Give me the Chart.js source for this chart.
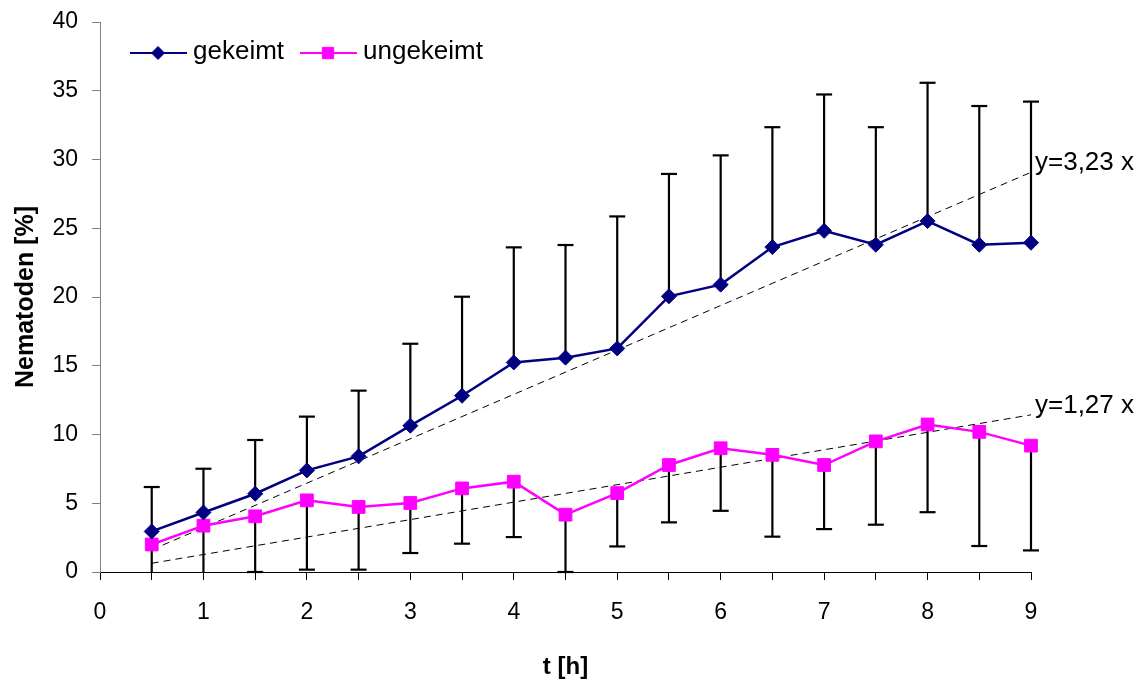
<!DOCTYPE html>
<html>
<head>
<meta charset="utf-8">
<script src="https://cdn.jsdelivr.net/npm/chart.js@4.4.1/dist/chart.umd.min.js"></script>
<style>
  body { margin: 0; background: #fff; }
  canvas { display: block; }
</style>
</head>
<body>
<canvas id="myChart" width="1145" height="684"></canvas>
<script>
// t [h]
var zeiten = [0.5, 1, 1.5, 2, 2.5, 3, 3.5, 4, 4.5, 5, 5.5, 6, 6.5, 7, 7.5, 8, 8.5, 9];
// Nematoden [%]
var gekeimt = [2.95, 4.33, 5.69, 7.39, 8.41, 10.64, 12.82, 15.24, 15.59, 16.26, 20.05, 20.9, 23.63, 24.81, 23.8, 25.52, 23.8, 23.95];
var gekeimtSd = [3.23, 3.18, 3.91, 3.91, 4.78, 5.96, 7.2, 8.37, 8.19, 9.6, 8.9, 9.4, 8.72, 9.92, 8.55, 10.06, 10.09, 10.26];
var ungekeimt = [2.0, 3.37, 4.05, 5.21, 4.73, 5.02, 6.08, 6.57, 4.17, 5.74, 7.78, 9.0, 8.52, 7.78, 9.5, 10.73, 10.19, 9.19];
var ungekeimtSd = [2.5, 4.0, 4.05, 5.04, 4.56, 3.64, 4.02, 4.03, 4.17, 3.88, 4.17, 4.55, 5.95, 4.66, 6.06, 6.38, 8.3, 7.62];
// Trendlinien y = a x
var trendSteigung = [3.23, 1.27];
var trendText = ['y=3,23 x', 'y=1,27 x'];

var schrift = "'Liberation Sans', Arial, sans-serif";

function punkte(werte) {
  return zeiten.map(function (t, i) { return { x: t, y: werte[i] }; });
}
function trend(a) {
  var t0 = zeiten[0], t1 = zeiten[zeiten.length - 1];
  return [{ x: t0, y: a * t0 }, { x: t1, y: a * t1 }];
}

// Fehlerbalken: gekeimt nach oben, ungekeimt nach unten
var fehlerbalken = {
  id: 'fehlerbalken',
  beforeDatasetsDraw: function (chart) {
    var ctx = chart.ctx, xs = chart.scales.x, ys = chart.scales.y;
    var reihen = [
      { werte: gekeimt, sd: gekeimtSd, richtung: 1 },
      { werte: ungekeimt, sd: ungekeimtSd, richtung: -1 }
    ];
    ctx.save();
    ctx.strokeStyle = '#000';
    ctx.lineWidth = 2.2;
    reihen.forEach(function (r) {
      zeiten.forEach(function (t, i) {
        var ende = r.werte[i] + r.richtung * r.sd[i];
        var px = xs.getPixelForValue(t);
        var y0 = ys.getPixelForValue(r.werte[i]);
        var y1 = ys.getPixelForValue(Math.max(ende, ys.min));
        ctx.beginPath();
        ctx.moveTo(px, y0);
        ctx.lineTo(px, y1);
        ctx.stroke();
        if (ende >= ys.min - 0.05) {
          ctx.beginPath();
          ctx.moveTo(px - 8, y1);
          ctx.lineTo(px + 8, y1);
          ctx.stroke();
        }
      });
    });
    ctx.restore();
  },
  afterDraw: function (chart) {
    var ctx = chart.ctx, xs = chart.scales.x, ys = chart.scales.y;
    ctx.save();
    // Trendlinien-Beschriftung
    ctx.font = '26px ' + schrift;
    ctx.fillStyle = '#000';
    ctx.textAlign = 'left';
    ctx.textBaseline = 'middle';
    trendSteigung.forEach(function (a, k) {
      var tEnd = zeiten[zeiten.length - 1];
      ctx.fillText(trendText[k], xs.getPixelForValue(tEnd) + 4, ys.getPixelForValue(a * tEnd) - 9);
    });
    // Legende
    var items = [
      { ds: chart.data.datasets[0], x: 130 },
      { ds: chart.data.datasets[1], x: 300 }
    ];
    var ly = 53;
    items.forEach(function (it) {
      var ds = it.ds;
      ctx.strokeStyle = ds.borderColor;
      ctx.lineWidth = 2;
      ctx.beginPath();
      ctx.moveTo(it.x, ly);
      ctx.lineTo(it.x + 57, ly);
      ctx.stroke();
      ctx.fillStyle = ds.pointBackgroundColor;
      ctx.strokeStyle = ds.pointBorderColor;
      ctx.lineWidth = 1;
      Chart.helpers.drawPoint(ctx, { pointStyle: ds.pointStyle, radius: ds.pointRadius - 1, borderWidth: 1, rotation: 0 }, it.x + 28, ly);
      ctx.fillStyle = '#000';
      ctx.font = '26px ' + schrift;
      ctx.textAlign = 'left';
      ctx.textBaseline = 'middle';
      ctx.fillText(ds.label, it.x + 63, ly - 1);
    });
    ctx.restore();
  }
};

var ctx = document.getElementById('myChart');
var myChart = new Chart(ctx, {
  type: 'line',
  data: {
    datasets: [{
      label: 'gekeimt',
      data: punkte(gekeimt),
      borderColor: '#000080',
      borderWidth: 2.5,
      pointStyle: 'rectRot',
      pointRadius: 7.5,
      pointBackgroundColor: '#000080',
      pointBorderColor: '#000080',
      pointBorderWidth: 1,
      tension: 0,
      clip: false
    }, {
      label: 'ungekeimt',
      data: punkte(ungekeimt),
      borderColor: '#FF00FF',
      borderWidth: 2.5,
      pointStyle: 'rect',
      pointRadius: 9,
      pointBackgroundColor: '#FF00FF',
      pointBorderColor: '#FF00FF',
      pointBorderWidth: 1,
      tension: 0,
      clip: false
    }, {
      label: 'trend1',
      data: trend(trendSteigung[0]),
      borderColor: '#000',
      borderWidth: 1,
      borderDash: [7, 5],
      pointRadius: 0
    }, {
      label: 'trend2',
      data: trend(trendSteigung[1]),
      borderColor: '#000',
      borderWidth: 1,
      borderDash: [7, 5],
      pointRadius: 0
    }]
  },
  options: {
    responsive: false,
    animation: false,
    layout: { padding: { left: 0, right: 114, top: 22, bottom: 0 } },
    plugins: {
      legend: { display: false },
      tooltip: { enabled: false }
    },
    scales: {
      x: {
        type: 'linear',
        min: 0,
        max: 9,
        afterFit: function (s) { s.height = 112; s.paddingLeft = 0; s.paddingRight = 0; },
        border: { color: '#000', width: 1 },
        grid: { drawOnChartArea: false, tickLength: 8, color: '#000' },
        ticks: {
          stepSize: 0.5,
          autoSkip: false,
          maxRotation: 0,
          padding: 19,
          color: '#000',
          font: { family: schrift, size: 23 },
          callback: function (v) { return Number.isInteger(v) ? v : ''; }
        },
        title: {
          display: true,
          text: 't [h]',
          color: '#000',
          font: { family: schrift, size: 24, weight: 'bold' },
          padding: { top: 0, bottom: 2 }
        }
      },
      y: {
        min: 0,
        max: 40,
        afterFit: function (s) { s.width = 100; s.paddingTop = 0; s.paddingBottom = 0; },
        border: { color: '#808080', width: 1 },
        grid: { drawOnChartArea: false, tickLength: 8, color: '#808080' },
        ticks: {
          stepSize: 5,
          padding: 14,
          color: '#000',
          font: { family: schrift, size: 23 }
        },
        title: {
          display: true,
          text: 'Nematoden [%]',
          color: '#000',
          font: { family: schrift, size: 25, weight: 'bold' },
          padding: { top: 11, bottom: 0 }
        }
      }
    }
  },
  plugins: [fehlerbalken]
});
</script>
</body>
</html>
